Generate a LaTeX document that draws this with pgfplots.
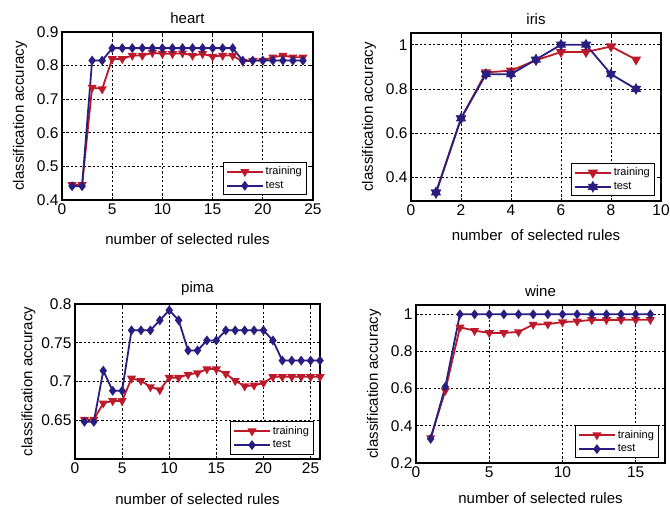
\documentclass[border=0pt]{standalone}
\usepackage{pgfplots}
\pgfplotsset{compat=1.18}
\usepackage{fontspec}
\setmainfont{Liberation Sans}
\definecolor{trainc}{RGB}{190,25,40}
\definecolor{testc}{RGB}{40,30,130}
\pgfdeclareplotmark{hexstar}{%
 \pgfpathmoveto{\pgfqpointpolar{90}{\pgfplotmarksize}}%
 \pgfpathlineto{\pgfqpointpolar{210}{\pgfplotmarksize}}%
 \pgfpathlineto{\pgfqpointpolar{330}{\pgfplotmarksize}}%
 \pgfpathclose
 \pgfpathmoveto{\pgfqpointpolar{270}{\pgfplotmarksize}}%
 \pgfpathlineto{\pgfqpointpolar{30}{\pgfplotmarksize}}%
 \pgfpathlineto{\pgfqpointpolar{150}{\pgfplotmarksize}}%
 \pgfpathclose
 \pgfusepathqfillstroke}
\pgfplotsset{
 panel/.style={
  scale only axis, anchor=south west,
  grid=major,
  major grid style={black, line width=0.8pt, dash pattern=on 2.2pt off 2.2pt},
  axis line style={line width=1.6pt},
  tick align=inside, major tick length=3pt,
  tick style={black, line width=0.8pt},
  /pgf/number format/assume math mode=true,
  ticklabel style={font=\fontsize{15.5}{17}\selectfont},
  yticklabel style={/pgf/number format/fixed, /pgf/number format/precision=2},
  label style={font=\fontsize{15}{17}\selectfont},
  title style={font=\fontsize{15}{17}\selectfont, yshift=-1pt},
  legend style={at={(0.975,0.03)}, anchor=south east, font=\fontsize{11}{12}\selectfont,
    draw=black, line width=0.8pt, fill=white, inner sep=2.5pt, row sep=1pt,
    cells={anchor=west}},
  legend image code/.code={\draw[mark repeat=2,mark phase=2] plot coordinates {(0pt,0pt) (18pt,0pt) (36pt,0pt)};},
 },
 trainst/.style={color=trainc, line width=1.8pt, mark=triangle*, mark size=3.5pt, mark options={rotate=180, solid, fill=trainc}},
 testst/.style={color=testc, line width=1.8pt, mark=diamond*, mark size=3.5pt, mark options={solid, fill=testc}},
}
\begin{document}
\begin{tikzpicture}
\useasboundingbox (0pt,0pt) rectangle (670pt,506pt);
% heart
\begin{axis}[panel, at={(62pt,306pt)}, width=251pt, height=168pt,
  xmin=0, xmax=25, ymin=0.4, ymax=0.9,
  xtick={0,5,...,25}, ytick={0.4,0.5,...,0.9},
  title={heart}, xlabel={number of selected rules}, ylabel={classification accuracy},
  xlabel style={yshift=-12pt}, ylabel style={yshift=3pt}]
\addplot[trainst] coordinates {(1,0.445)(2,0.445)(3,0.735)(4,0.73)(5,0.82)(6,0.82)(7,0.83)(8,0.83)(9,0.838)(10,0.835)(11,0.835)(12,0.837)(13,0.83)(14,0.835)(15,0.827)(16,0.83)(17,0.83)(18,0.812)(19,0.815)(20,0.815)(21,0.825)(22,0.83)(23,0.825)(24,0.825)};
\addplot[testst] coordinates {(1,0.441)(2,0.441)(3,0.815)(4,0.815)(5,0.852)(6,0.852)(7,0.852)(8,0.852)(9,0.852)(10,0.852)(11,0.852)(12,0.852)(13,0.852)(14,0.852)(15,0.852)(16,0.852)(17,0.852)(18,0.815)(19,0.815)(20,0.815)(21,0.815)(22,0.815)(23,0.815)(24,0.815)};
\legend{training, test}
\end{axis}
% iris
\begin{axis}[panel, at={(411pt,305pt)}, width=250pt, height=168pt,
  xmin=0, xmax=10, ymin=0.294, ymax=1.053,
  xtick={0,2,...,10}, ytick={0.4,0.6,0.8,1},
  title={iris}, xlabel={number\ \ of selected rules}, ylabel={classification accuracy},
  xlabel style={yshift=-7pt}, ylabel style={yshift=3pt}]
\addplot[trainst, mark size=4.2pt] coordinates {(1,0.33)(2,0.667)(3,0.875)(4,0.883)(5,0.93)(6,0.967)(7,0.967)(8,0.992)(9,0.933)};
\addplot[testst, mark=hexstar, mark size=4.2pt] coordinates {(1,0.333)(2,0.667)(3,0.867)(4,0.867)(5,0.933)(6,1.0)(7,1.0)(8,0.867)(9,0.8)};
\legend{training, test}
\end{axis}
% pima
\begin{axis}[panel, at={(75pt,47pt)}, width=245pt, height=155pt,
  xmin=0, xmax=26, ymin=0.6, ymax=0.8,
  xtick={0,5,...,25}, ytick={0.65,0.7,0.75,0.8},
  title={pima}, xlabel={number of selected rules}, ylabel={classification accuracy},
  xlabel style={yshift=-13pt}, ylabel style={yshift=-1pt}]
\addplot[trainst] coordinates {(1,0.651)(2,0.651)(3,0.672)(4,0.675)(5,0.675)(6,0.704)(7,0.701)(8,0.693)(9,0.689)(10,0.705)(11,0.705)(12,0.709)(13,0.711)(14,0.716)(15,0.716)(16,0.710)(17,0.701)(18,0.694)(19,0.695)(20,0.698)(21,0.706)(22,0.706)(23,0.706)(24,0.706)(25,0.706)(26,0.706)};
\addplot[testst] coordinates {(1,0.648)(2,0.648)(3,0.714)(4,0.688)(5,0.688)(6,0.766)(7,0.766)(8,0.766)(9,0.779)(10,0.792)(11,0.779)(12,0.740)(13,0.740)(14,0.753)(15,0.753)(16,0.766)(17,0.766)(18,0.766)(19,0.766)(20,0.766)(21,0.753)(22,0.727)(23,0.727)(24,0.727)(25,0.727)(26,0.727)};
\legend{training, test}
\end{axis}
% wine
\begin{axis}[panel, at={(416pt,43pt)}, width=249pt, height=158pt,
  xmin=0, xmax=17, ymin=0.2, ymax=1.05,
  xtick={0,5,10,15}, ytick={0.2,0.4,...,1.0},
  title={wine}, xlabel={number of selected rules}, ylabel={classification accuracy},
  xlabel style={yshift=-8pt}, ylabel style={yshift=3pt}]
\addplot[trainst] coordinates {(1,0.335)(2,0.59)(3,0.93)(4,0.912)(5,0.9)(6,0.9)(7,0.905)(8,0.945)(9,0.947)(10,0.958)(11,0.962)(12,0.97)(13,0.97)(14,0.97)(15,0.971)(16,0.971)};
\addplot[testst] coordinates {(1,0.33)(2,0.61)(3,1)(4,1)(5,1)(6,1)(7,1)(8,1)(9,1)(10,1)(11,1)(12,1)(13,1)(14,1)(15,1)(16,1)};
\legend{training, test}
\end{axis}
\end{tikzpicture}
\end{document}
